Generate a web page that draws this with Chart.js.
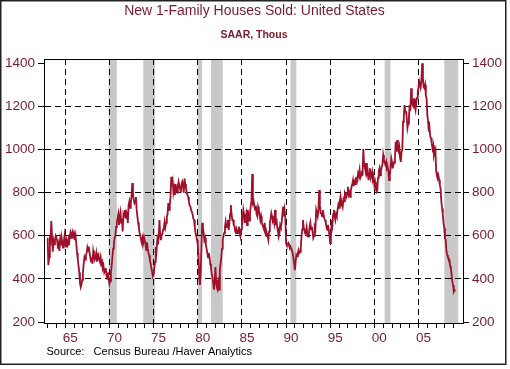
<!DOCTYPE html>
<html>
<head>
<meta charset="utf-8">
<script src="https://cdn.jsdelivr.net/npm/chart.js@4/dist/chart.umd.min.js"></script>
<style>
html,body{margin:0;padding:0;background:#fff;}
#wrap{width:510px;height:369px;position:relative;}
</style>
</head>
<body>
<div id="wrap"><canvas id="c" width="510" height="369"></canvas></div>
<script>
// ---- data (monthly, SAAR, thousands), starting Jan 1963 ----
const startYear = 1963;
const sales = [
 591,464,500,605,586,668,597,526,577,560,580,600,
 592,575,540,560,530,580,555,590,560,545,575,600,
 560,550,575,560,580,555,600,615,590,610,620,600,
 610,580,600,560,520,490,460,430,380,362,375,395,
 430,470,500,490,510,520,545,530,550,520,500,480,
 500,470,530,510,490,500,520,480,500,510,490,480,
 500,470,480,450,460,430,440,450,420,400,430,400,
 376,390,430,460,500,540,560,590,600,640,660,680,
 700,650,690,710,660,680,620,700,690,720,680,710,
 700,660,740,758,730,750,780,845,790,770,752,760,
 780,720,690,660,640,613,600,580,566,589,570,594,
 594,560,534,570,540,520,510,487,470,450,430,413,
 420,450,480,548,530,580,560,600,673,600,580,603,
 610,630,640,665,640,660,690,700,752,720,740,780,
 874,830,850,800,820,790,840,810,800,830,850,830,
 820,800,840,850,830,800,866,840,821,800,790,780,
 760,740,735,720,720,700,680,673,640,613,600,580,
 560,500,420,372,430,540,660,640,613,580,590,560,
 540,520,500,520,500,470,455,420,409,380,350,380,
 455,395,360,350,380,350,441,470,500,540,580,600,
 613,640,665,640,642,673,627,660,700,743,700,673,
 673,650,642,620,612,630,620,612,642,620,600,630,
 700,680,720,700,660,680,700,650,720,690,670,700,
 740,760,886,752,760,735,720,740,700,690,735,720,
 700,673,690,660,650,640,630,660,620,600,610,596,
 580,620,660,680,705,690,670,680,660,720,650,680,
 640,620,596,610,650,640,660,700,735,690,720,688,
 566,557,560,566,555,543,550,540,530,520,500,470,
 441,480,511,505,520,534,520,525,540,596,630,673,
 640,627,610,620,640,600,596,610,640,660,630,642,
 620,590,600,658,640,720,705,690,720,812,740,705,
 705,690,720,700,680,673,660,640,627,650,630,600,
 566,600,673,650,700,720,690,673,700,690,720,743,
 730,760,781,740,750,735,770,760,798,790,781,800,
 827,790,800,781,810,827,840,858,830,850,840,868,
 870,858,890,880,905,870,880,900,880,1002,937,920,
 900,937,890,900,858,890,913,868,880,897,860,870,
 835,850,820,804,810,870,900,913,880,900,920,930,
 975,950,940,930,943,913,920,900,858,880,913,960,
 943,913,930,940,960,1036,990,1044,1000,990,1010,960,
 943,990,1000,1129,1150,1206,1175,1180,1150,1100,1120,1150,
 1206,1180,1284,1240,1206,1200,1237,1200,1183,1220,1240,1268,
 1290,1315,1300,1291,1320,1400,1330,1290,1284,1300,1250,1237,
 1160,1130,1083,1100,1060,1052,1030,1005,1020,975,990,1000,
 897,880,866,880,860,835,820,760,727,700,660,635,
 588,580,530,511,500,495,490,460,449,420,387,370,
 341,348,343
];
// NBER recessions (decimal years)
const recessionStarts = [1969.917, 1973.833, 1980.0, 1981.5, 1990.5, 2001.167, 2007.917];
const recessionEnds   = [1970.833, 1975.167, 1980.5, 1982.833, 1991.167, 2001.833, 2009.5];
const xTickYears = []; for (let y = 1963; y <= 2009; y++) xTickYears.push(y);
const yTicks = [200, 400, 600, 800, 1000, 1200, 1400];
const titleText = 'New 1-Family Houses Sold: United States';
const subtitleText = 'SAAR, Thous';
const sourceText = 'Source:   Census Bureau /Haver Analytics';

const RED_TEXT = '#7a1a2e';
const LINE_RED = '#a0102a';
const points = sales.map((v, i) => ({x: startYear + i / 12, y: v}));

const decor = {
  id: 'decor',
  beforeDraw(chart) {
    const {ctx, chartArea: a, scales} = chart;
    ctx.save();
    ctx.fillStyle = '#fff';
    ctx.fillRect(0, 0, chart.width, chart.height);
    ctx.fillStyle = '#c8c8c8';
    for (let i = 0; i < recessionStarts.length; i++) {
      const x1 = Math.max(a.left, scales.x.getPixelForValue(recessionStarts[i]));
      const x2 = Math.min(a.right, scales.x.getPixelForValue(recessionEnds[i]));
      ctx.fillRect(x1, a.top, x2 - x1, a.bottom - a.top);
    }
    ctx.restore();
  },
  afterDraw(chart) {
    const {ctx, chartArea: a} = chart;
    ctx.save();
    ctx.strokeStyle = '#000';
    ctx.lineWidth = 1;
    ctx.strokeRect(Math.round(a.left) + 0.5, Math.round(a.top) + 0.5, Math.round(a.right - a.left), Math.round(a.bottom - a.top));
    // outer frame
    ctx.strokeStyle = '#222';
    ctx.lineWidth = 1.5;
    ctx.strokeRect(0.75, 0.75, 505, 363.5);
    ctx.fillStyle = RED_TEXT;
    ctx.textAlign = 'center';
    ctx.textBaseline = 'middle';
    ctx.font = '14px "Liberation Sans", Arial, sans-serif';
    ctx.fillText(titleText, 254.5, 11);
    ctx.font = 'bold 10.5px "Liberation Sans", Arial, sans-serif';
    ctx.fillText(subtitleText, 254, 35.5);
    ctx.fillStyle = '#000';
    ctx.textAlign = 'left';
    ctx.font = '11px "Liberation Sans", Arial, sans-serif';
    ctx.fillText(sourceText, 46.5, 352);
    ctx.restore();
  }
};

const tickFont = {family: '"Liberation Sans", Arial, sans-serif', size: 13.5};
const yAxisCommon = (pos) => ({
  type: 'linear', position: pos, min: 195.4, max: 1420,
  afterBuildTicks: s => { s.ticks = yTicks.map(v => ({value: v})); },
  afterFit: s => { s.width = pos === 'left' ? 44 : 47; },
  ticks: {color: RED_TEXT, font: tickFont, padding: 3, callback: v => String(v)},
  grid: {
    drawOnChartArea: pos === 'left',
    color: c => (c.tick && c.tick.value > 200 && c.tick.value < 1400) ? '#000' : 'rgba(0,0,0,0)',
    tickColor: '#000', tickLength: 6, lineWidth: 1, tickBorderDash: []
  },
  border: {display: true, color: '#000', width: 1, dash: [6, 4]}
});

new Chart(document.getElementById('c'), {
  type: 'line',
  data: {
    datasets: [{
      data: points,
      borderColor: LINE_RED,
      borderWidth: 1.8,
      pointRadius: 0,
      tension: 0,
      fill: false
    }]
  },
  options: {
    responsive: false,
    animation: false,
    devicePixelRatio: 1,
    layout: {padding: {top: 59, left: 0, right: 0, bottom: 0}},
    plugins: {legend: {display: false}, tooltip: {enabled: false}, title: {display: false}},
    scales: {
      x: {
        type: 'linear', min: 1962.59, max: 2010.04,
        afterBuildTicks: s => { s.ticks = xTickYears.map(v => ({value: v})); },
        afterFit: s => { s.height = 46; },
        ticks: {
          autoSkip: false, maxRotation: 0, minRotation: 0, labelOffset: 5, padding: 2,
          color: RED_TEXT, font: tickFont,
          callback: v => (v % 5 === 0 ? String(v).slice(2) : '')
        },
        grid: {
          color: c => (c.tick && c.tick.value % 5 === 0) ? '#000' : 'rgba(0,0,0,0)',
          tickColor: '#000', tickLength: 5, lineWidth: 1, tickBorderDash: []
        },
        border: {display: true, color: '#000', width: 1, dash: [6, 4]}
      },
      y: yAxisCommon('left'),
      y2: yAxisCommon('right')
    }
  },
  plugins: [decor]
});
</script>
</body>
</html>
